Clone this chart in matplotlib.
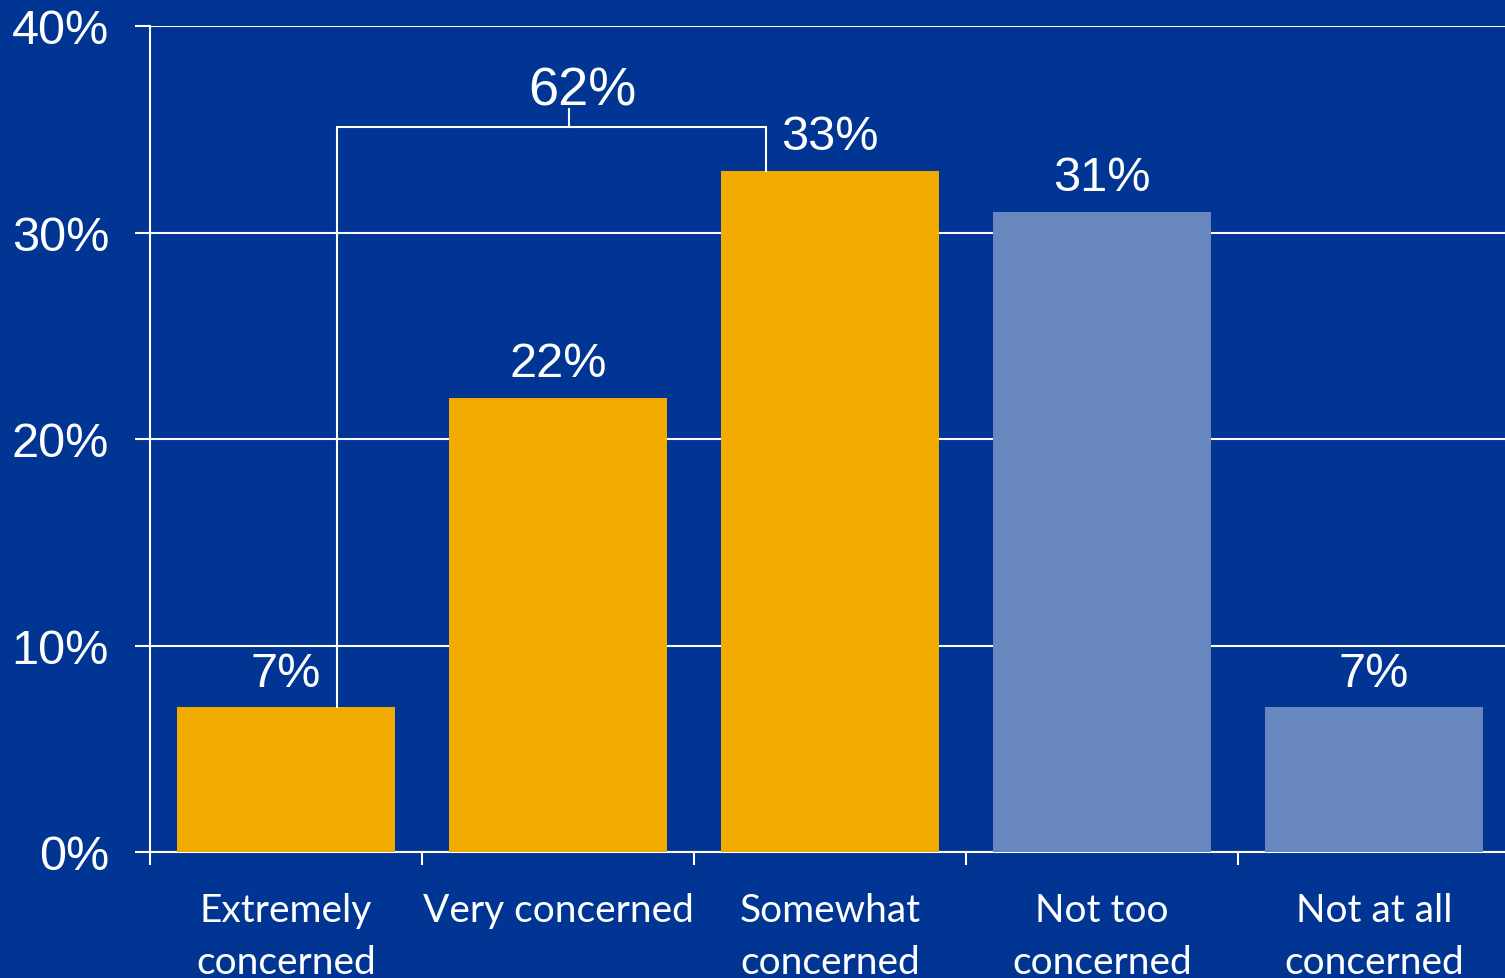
import matplotlib

matplotlib.use("Agg")
import matplotlib.pyplot as plt

BG = "#003594"
GOLD = "#F0AA00"
LIGHT = "#6787BE"
WHITE = "#FFFFFF"

categories = ["Extremely\nconcerned", "Very concerned", "Somewhat\nconcerned",
              "Not too\nconcerned", "Not at all\nconcerned"]
values = [7, 22, 33, 31, 7]
bar_colors = [GOLD, GOLD, GOLD, LIGHT, LIGHT]
yticks = [0, 10, 20, 30, 40]
bracket_label = "62%"

fig = plt.figure(figsize=(15.05, 9.79), dpi=100)
fig.patch.set_facecolor(BG)
# axes run a little past the right edge of the figure, as in the original slide
ax = fig.add_axes([150 / 1505, 1 - 853 / 979, 1360 / 1505, (853 - 27) / 979])
ax.set_facecolor(BG)

x = list(range(len(values)))
ax.bar(x, values, width=0.8, color=bar_colors, zorder=3)

ax.set_xlim(-0.5, len(values) - 0.5)
ax.set_ylim(0, 40)
ax.set_yticks(yticks)
ax.set_yticklabels([f"{v}%" for v in yticks], family="Liberation Sans",
                   fontsize=35, color=WHITE)
ax.grid(axis="y", color=WHITE, linewidth=1.5, zorder=1)
ax.set_axisbelow(True)

ax.set_xticks(x)
ax.set_xticklabels(categories, family="Lato", fontsize=28, color=WHITE,
                   linespacing=1.58)
ax.set_xticks([i - 0.5 for i in range(len(values) + 1)], minor=True)
ax.tick_params(axis="x", which="major", length=0, pad=28.5)
ax.tick_params(axis="x", which="minor", length=9.5, width=1.5, color=WHITE)
ax.tick_params(axis="y", length=10.5, width=1.5, color=WHITE, pad=19)

for s in ("top", "right"):
    ax.spines[s].set_visible(False)
for s in ("left", "bottom"):
    ax.spines[s].set_color(WHITE)
    ax.spines[s].set_linewidth(1.5)

for xi, v in zip(x, values):
    ax.text(xi, v + 1.65, f"{v}%", ha="center", va="center",
            family="Liberation Sans", fontsize=35, color=WHITE, zorder=5)

# bracket joining the three "concerned" bars
lx, rx, top = 0.188, 1.764, 35.1
ax.plot([lx, lx, rx, rx], [values[0], top, top, values[2]],
        color=WHITE, linewidth=1.5, zorder=4, solid_joinstyle="miter")
ax.plot([1.04, 1.04], [top, 36.0], color=WHITE, linewidth=1.5, zorder=4)
ax.text(1.09, 36.9, bracket_label, ha="center", va="center",
        family="Liberation Sans", fontsize=39, color=WHITE, zorder=5)

fig.savefig("out.png", facecolor=BG)
